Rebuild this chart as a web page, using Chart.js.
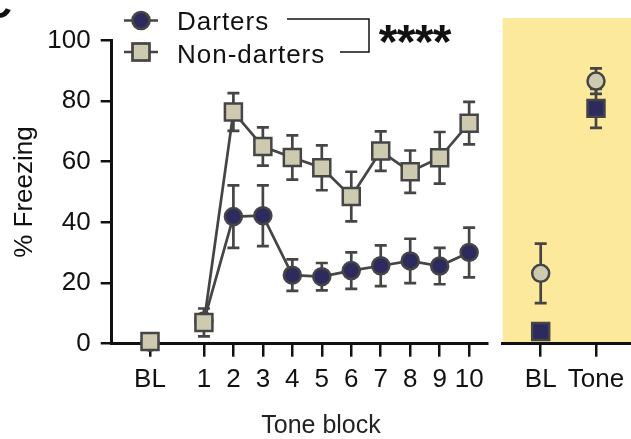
<!DOCTYPE html>
<html><head><meta charset="utf-8">
<script src="https://cdn.jsdelivr.net/npm/chart.js@4"></script>
<style>
html,body{margin:0;padding:0;background:#fff;}
#wrap{position:relative;width:631px;height:439px;overflow:hidden;background:#fff;}
#c1{position:absolute;left:0;top:0;}
#c2{position:absolute;left:490px;top:0;}
</style></head><body>
<div id="wrap"><canvas id="c1" width="500" height="439"></canvas><canvas id="c2" width="141" height="439"></canvas></div>
<script>
// ---- data ----
const blockLabels = ['BL','1','2','3','4','5','6','7','8','9','10'];
const blockPos    = [-0.83, 1, 2, 3, 4, 5, 6, 7, 8, 9, 10];
const dartersMean    = [0.5, 7.5, 41.9, 42.2, 22.6, 22.1, 24.1, 25.7, 27.3, 25.6, 30.1];
const dartersSem     = [0, 0, 10.3, 10.0, 5.2, 4.5, 6.0, 6.7, 7.3, 6.0, 8.2];
const nonDartersMean = [0.7, 7.0, 76.4, 65.0, 61.4, 58.0, 48.5, 63.5, 56.7, 61.3, 72.7];
const nonDartersSem  = [0.5, 4.6, 6.2, 6.3, 7.3, 7.4, 8.2, 6.5, 7.0, 8.5, 7.0];
const yTicks = [0, 20, 40, 60, 80, 100];

const testLabels = ['BL', 'Tone'];
const testPos = [0, 1];
const testCircleMean = [23.2, 86.6];
const testCircleSem  = [9.8, 4.2];
const testSquareMean = [4.0, 77.6];
const testSquareSem  = [1.0, 6.4];

// ---- styles ----
const NAVY = '#2d2b5e', KHAKI = '#cdcab0', EDGE = '#454545', INK = '#111';
const FONT = 'Liberation Sans';

function series(pos, mean, gapAfterFirst) {
  const pts = pos.map((x, i) => ({x: x, y: mean[i]}));
  if (gapAfterFirst) pts.splice(1, 0, {x: 0, y: null});
  return pts;
}

const errorBars = {
  id: 'errorBars',
  beforeDatasetsDraw(chart, args, opts) {
    const ctx = chart.ctx, xs = chart.scales.x, ys = chart.scales.y;
    ctx.save();
    ctx.strokeStyle = EDGE; ctx.lineWidth = 2.7;
    opts.sets.forEach(s => {
      s.pos.forEach((x, i) => {
        const e = s.sem[i]; if (!e) return;
        const px = xs.getPixelForValue(x);
        const y1 = ys.getPixelForValue(s.mean[i] + e), y2 = ys.getPixelForValue(s.mean[i] - e);
        ctx.beginPath();
        ctx.moveTo(px, y1); ctx.lineTo(px, y2);
        ctx.moveTo(px - 6, y1); ctx.lineTo(px + 6, y1);
        ctx.moveTo(px - 6, y2); ctx.lineTo(px + 6, y2);
        ctx.stroke();
      });
    });
    ctx.restore();
  }
};

const legendDecor = {
  id: 'legendDecor',
  afterDraw(chart) {
    const ctx = chart.ctx;
    ctx.save();
    // panel letter (clipped)
    ctx.fillStyle = INK;
    ctx.font = 'bold 40px "' + FONT + '"';
    ctx.textAlign = 'right'; ctx.textBaseline = 'alphabetic';
    ctx.fillText('C', 12, 18);
    // legend markers
    ctx.strokeStyle = EDGE; ctx.lineWidth = 2.7;
    ctx.beginPath(); ctx.moveTo(124, 20.5); ctx.lineTo(158, 20.5); ctx.stroke();
    ctx.beginPath(); ctx.arc(141, 20.5, 8.5, 0, Math.PI * 2); ctx.fillStyle = NAVY; ctx.fill(); ctx.stroke();
    ctx.beginPath(); ctx.moveTo(124, 52); ctx.lineTo(158, 52); ctx.stroke();
    ctx.fillStyle = KHAKI; ctx.fillRect(132.5, 43.5, 17, 17); ctx.strokeRect(132.5, 43.5, 17, 17);
    // legend text
    ctx.fillStyle = INK; ctx.textAlign = 'left';
    ctx.font = '26px "' + FONT + '"';
    ctx.letterSpacing = '1px';
    ctx.fillText('Darters', 177, 30);
    ctx.fillText('Non-darters', 177, 63);
    ctx.letterSpacing = '0px';
    // x-axis title
    ctx.fillStyle = '#222'; ctx.textAlign = 'center';
    ctx.font = '25px "' + FONT + '"';
    ctx.fillText('Tone block', 321, 433);
    // bracket
    ctx.strokeStyle = INK; ctx.lineWidth = 1.5;
    ctx.beginPath(); ctx.moveTo(287, 19); ctx.lineTo(369, 19); ctx.lineTo(369, 52); ctx.lineTo(340, 52); ctx.stroke();
    // stars
    ctx.fillStyle = INK;
    ctx.font = 'bold 48px "' + FONT + '"';
    [388, 406, 424, 442].forEach(x => ctx.fillText('*', x, 58));
    ctx.restore();
  }
};

const yellowBg = {
  id: 'yellowBg',
  beforeDraw(chart) {
    const a = chart.chartArea, ctx = chart.ctx;
    ctx.save(); ctx.fillStyle = '#fde99b';
    ctx.fillRect(a.left, a.top, a.right - a.left, a.bottom - a.top);
    ctx.restore();
  }
};

function zeroPad(s) { s.paddingLeft = 0; s.paddingRight = 0; s.paddingTop = 0; s.paddingBottom = 0; }

function lineDs(label, data, style, fill, radius, order) {
  return {
    label, data, order,
    borderColor: EDGE, borderWidth: 2.7,
    pointStyle: style, pointRadius: radius,
    pointBackgroundColor: fill, pointBorderColor: EDGE, pointBorderWidth: 2.5,
    spanGaps: false, clip: false, tension: 0
  };
}

new Chart(document.getElementById('c1'), {
  type: 'line',
  data: {
    datasets: [
      lineDs('Non-darters', series(blockPos, nonDartersMean, true), 'rect', KHAKI, 12, 0),
      lineDs('Darters', series(blockPos, dartersMean, true), 'circle', NAVY, 8.5, 1)
    ]
  },
  options: {
    responsive: false, animation: false, events: [],
    layout: { autoPadding: false, padding: { left: 0, right: 12.3, top: 40.4, bottom: 0 } },
    plugins: {
      legend: { display: false }, tooltip: { enabled: false },
      errorBars: { sets: [
        { pos: blockPos, mean: dartersMean, sem: dartersSem },
        { pos: blockPos, mean: nonDartersMean, sem: nonDartersSem }
      ] }
    },
    scales: {
      x: {
        type: 'linear', min: -2.13, max: 10.63,
        afterBuildTicks: s => { s.ticks = blockPos.map(v => ({ value: v })); },
        afterFit: s => { s.height = 95.3; zeroPad(s); },
        ticks: { autoSkip: false, maxRotation: 0, padding: 8, color: INK,
          font: { family: FONT, size: 26 }, callback: (v, i) => blockLabels[i] },
        grid: { display: true, drawOnChartArea: false, drawTicks: true, tickLength: 13, color: INK, lineWidth: 2.5 },
        border: { display: true, color: INK, width: 3 },
        title: { display: false }
      },
      y: {
        min: 0, max: 100,
        afterBuildTicks: s => { s.ticks = yTicks.map(v => ({ value: v })); },
        afterFit: s => { s.width = 111.7; zeroPad(s); },
        ticks: { padding: 10, color: INK, font: { family: FONT, size: 26 } },
        grid: { display: true, drawOnChartArea: false, drawTicks: true, tickLength: 11, color: INK, lineWidth: 2.5 },
        border: { display: true, color: INK, width: 3 },
        title: { display: true, text: '% Freezing', color: INK,
          font: { family: FONT, size: 26, lineHeight: 1 }, padding: { top: 12, bottom: 0 } }
      }
    }
  },
  plugins: [errorBars, legendDecor]
});

function ptDs(label, data, style, fill, radius) {
  return {
    label, data, showLine: false,
    pointStyle: style, pointRadius: radius,
    pointBackgroundColor: fill, pointBorderColor: EDGE, pointBorderWidth: 2.5, clip: false
  };
}

new Chart(document.getElementById('c2'), {
  type: 'line',
  data: {
    datasets: [
      ptDs('Square', series(testPos, testSquareMean, false), 'rect', NAVY, 12),
      ptDs('Circle', series(testPos, testCircleMean, false), 'circle', KHAKI, 8.5)
    ]
  },
  options: {
    responsive: false, animation: false, events: [],
    layout: { autoPadding: false, padding: { left: 12.7, right: 0, top: 18, bottom: 0 } },
    plugins: {
      legend: { display: false }, tooltip: { enabled: false },
      errorBars: { sets: [
        { pos: testPos, mean: testCircleMean, sem: testCircleSem },
        { pos: testPos, mean: testSquareMean, sem: testSquareSem }
      ] }
    },
    scales: {
      x: {
        type: 'linear', min: -0.687, max: 1.633,
        afterBuildTicks: s => { s.ticks = testPos.map(v => ({ value: v })); },
        afterFit: s => { s.height = 95.3; zeroPad(s); },
        ticks: { autoSkip: false, maxRotation: 0, padding: 8, color: INK,
          font: { family: FONT, size: 26 }, callback: (v, i) => testLabels[i] },
        grid: { display: true, drawOnChartArea: false, drawTicks: true, tickLength: 13, color: INK, lineWidth: 2.5 },
        border: { display: true, color: INK, width: 3 }
      },
      y: { display: false, min: 0, max: 107.4 }
    }
  },
  plugins: [yellowBg, errorBars]
});
</script>
</body></html>
